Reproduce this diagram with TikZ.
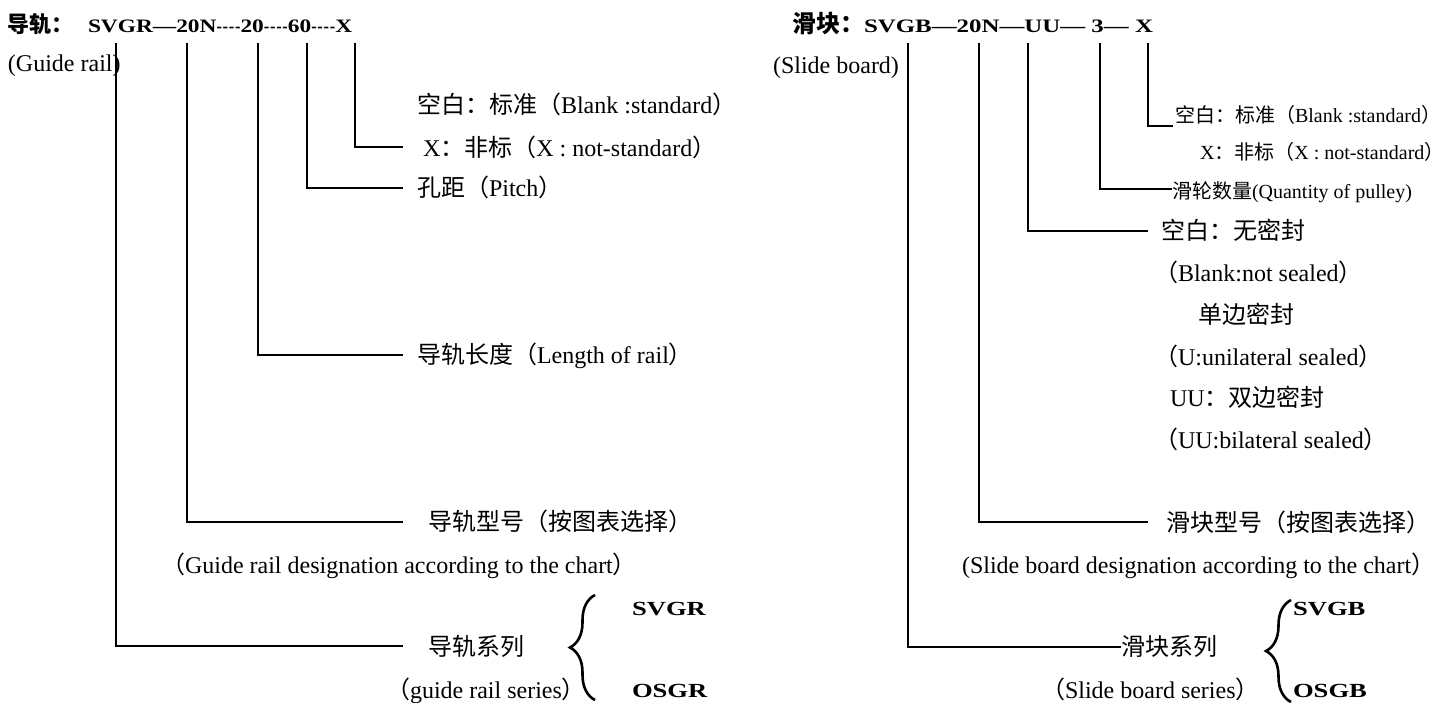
\documentclass[tikz,border=0pt]{standalone}
\usepackage{fontspec}
\usepackage{graphicx}
\setmainfont{Liberation Serif}[Ligatures=TeXOff]
\newfontfamily\cjk{Noto Sans CJK SC}
\usetikzlibrary{decorations.pathreplacing}
\newcommand\cj[1]{{\cjk #1}}
\newcommand\fs[1]{\fontsize{#1}{#1}\selectfont}
\newcommand\hy{\scalebox{0.7}[1]{-}}
\newcommand\hyq{\hy\kern.6pt\hy\kern.6pt\hy\kern.6pt\hy}
\begin{document}
\begin{tikzpicture}[x=1pt,y=-1pt,
  every node/.style={inner sep=0pt,outer sep=0pt},
  lab/.style={anchor=base west,font=\fs{24}},
  labs/.style={anchor=base west,font=\fs{20}},
  ttl/.style={anchor=base west},
  bld/.style={anchor=base west,font=\bfseries\fs{20}},
  conn/.style={line width=1.6pt},
  brc/.style={decorate,decoration={brace,amplitude=25pt},line width=2.6pt}]
\useasboundingbox (0,0) rectangle (1448,702);
\fill[white] (0,0) rectangle (1448,702);

% ---------------- left: guide rail ----------------
\node[ttl] (tL) at (8,32) {\cj{\bfseries\fs{22}导轨：}\hspace{14pt}\scalebox{1.23}[1]{\bfseries\fs{19}SVGR—20N\hyq 20\hyq 60\hyq X}};
\node[lab] (gr) at (8,71) {(Guide rail)};

\node[lab] (L1) at (417,113) {\cj{空白：标准（}Blank :standard\cj{）}};
\node[lab] (L2) at (423,156) {X\cj{：非标（}X : not-standard\cj{）}};
\node[lab] (L3) at (417,196) {\cj{孔距（}Pitch\cj{）}};
\node[lab] (L4) at (417,363) {\cj{导轨长度（}Length of rail\cj{）}};
\node[lab] (L5) at (428,530) {\cj{导轨型号（按图表选择）}};
\node[lab] (L6) at (161,573) {\cj{（}Guide rail designation according to the chart\cj{）}};
\node[lab] (L7) at (428,655) {\cj{导轨系列}};
\node[lab] (L8) at (386,698) {\cj{（}guide rail series\cj{）}};
\node[bld] (S1) at (632,615) {\scalebox{1.33}[1]{SVGR}};
\node[bld] (O1) at (632,697) {\scalebox{1.33}[1]{OSGR}};

\coordinate (a1) at (355,43); \coordinate (b1) at (403,147);
\coordinate (a2) at (307,43); \coordinate (b2) at (403,188);
\coordinate (a3) at (258,43); \coordinate (b3) at (403,355);
\coordinate (a4) at (187,43); \coordinate (b4) at (403,522);
\coordinate (a5) at (116,43); \coordinate (b5) at (403,646);
\foreach \i in {1,...,5} {\draw[conn] (a\i) |- (b\i);}
\coordinate (brL1) at (595,700); \coordinate (brL2) at (595,595);
\draw[brc] (brL1) -- (brL2);

% ---------------- right: slide board ----------------
\node[ttl] (tR) at (792,32) {\cj{\bfseries\fs{24}滑块：}\scalebox{1.31}[1]{\bfseries\fs{19}SVGB—20N—UU— 3— X}};
\node[lab] (sb) at (773,73) {(Slide board)};

\node[labs] (R1) at (1175,122) {\cj{空白：标准（}Blank :standard\cj{）}};
\node[labs] (R2) at (1200,159) {X\cj{：非标（}X : not-standard\cj{）}};
\node[labs] (R3) at (1172,198) {\cj{滑轮数量}(Quantity of pulley)};
\node[lab] (R4) at (1161,239) {\cj{空白：无密封}};
\node[lab] (R5) at (1154,281) {\cj{（}Blank:not sealed\cj{）}};
\node[lab] (R6) at (1198,323) {\cj{单边密封}};
\node[lab] (R7) at (1154,365) {\cj{（}U:unilateral sealed\cj{）}};
\node[lab] (R8) at (1170,406) {UU\cj{：双边密封}};
\node[lab] (R9) at (1154,448) {\cj{（}UU:bilateral sealed\cj{）}};
\node[lab] (R10) at (1166,531) {\cj{滑块型号（按图表选择）}};
\node[lab] (R11) at (962,573) {(Slide board designation according to the chart\cj{）}};
\node[lab] (R12) at (1121,655) {\cj{滑块系列}};
\node[lab] (R13) at (1041,698) {\cj{（}Slide board series\cj{）}};
\node[bld] (S2) at (1293,615) {\scalebox{1.33}[1]{SVGB}};
\node[bld] (O2) at (1293,697) {\scalebox{1.33}[1]{OSGB}};

\coordinate (c1) at (1148,43); \coordinate (d1) at (1173,126);
\coordinate (c2) at (1100,43); \coordinate (d2) at (1172,189);
\coordinate (c3) at (1028,43); \coordinate (d3) at (1148,231);
\coordinate (c4) at (979,43);  \coordinate (d4) at (1148,522);
\coordinate (c5) at (908,43);  \coordinate (d5) at (1121,647);
\foreach \i in {1,...,5} {\draw[conn] (c\i) |- (d\i);}
\coordinate (brR1) at (1291,702); \coordinate (brR2) at (1291,600);
\draw[brc] (brR1) -- (brR2);
\end{tikzpicture}
\end{document}
